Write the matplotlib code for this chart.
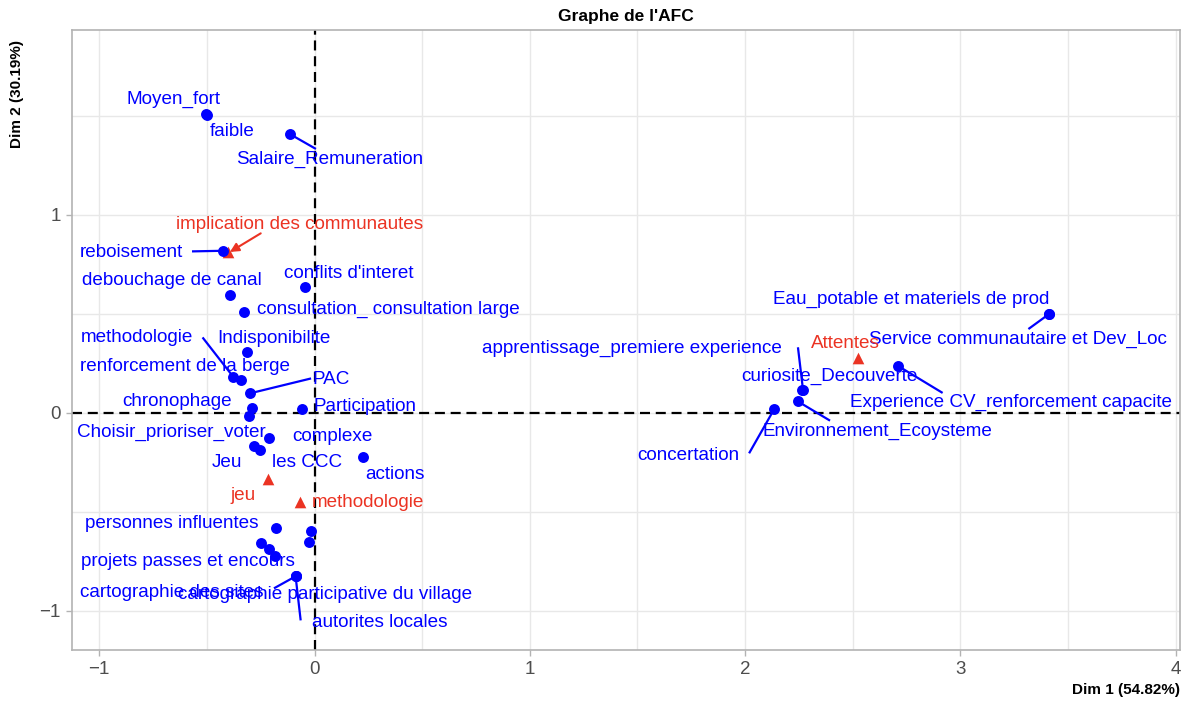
import matplotlib
matplotlib.use('Agg')
import matplotlib.pyplot as plt

plt.rcParams['font.family'] = ['Liberation Sans', 'DejaVu Sans']

# --- data: row categories (blue) ---
row_names = ["Moyen_fort", "faible", "Salaire_Remuneration", "reboisement",
             "conflits d'interet", "debouchage de canal",
             "consultation_ consultation large", "Indisponibilite",
             "methodologie", "renforcement de la berge", "PAC", "chronophage",
             "Choisir_prioriser_voter", "Participation", "complexe", "Jeu",
             "les CCC", "actions", "personnes influentes",
             "projets passes et encours", "cartographie des sites",
             "cartographie participative du village", "autorites locales",
             "Eau_potable et materiels de prod",
             "Service communautaire et Dev_Loc",
             "apprentissage_premiere experience", "curiosite_Decouverte",
             "Environnement_Ecoysteme", "Experience CV_renforcement capacite",
             "concertation"]
row_x = [-0.505, -0.500, -0.114, -0.424, -0.045, -0.393, -0.327, -0.316,
         -0.378, -0.343, -0.300, -0.292, -0.305, -0.060, -0.212, -0.280,
         -0.254, 0.226, -0.179, -0.184, -0.088, -0.086, -0.088,
         3.411, 3.411, 2.269, 2.266, 2.244, 2.711, 2.136]
row_y = [1.507, 1.505, 1.407, 0.818, 0.636, 0.593, 0.507, 0.305,
         0.182, 0.165, 0.098, 0.025, -0.015, 0.017, -0.129, -0.168,
         -0.188, -0.225, -0.581, -0.722, -0.826, -0.824, -0.826,
         0.498, 0.498, 0.115, 0.117, 0.058, 0.236, 0.020]

# row points left without a label (too many overlaps)
extra_x = [-0.018, -0.025, -0.249, -0.212]
extra_y = [-0.596, -0.652, -0.657, -0.690]

# --- data: column categories (red) ---
col_names = ["implication des communautes", "jeu", "methodologie", "Attentes"]
col_x = [-0.400, -0.215, -0.068, 2.526]
col_y = [0.812, -0.336, -0.453, 0.275]

# --- label layout (repelled positions, label centres) ---
row_lab_x = [-0.653, -0.382, 0.072, -0.850, 0.161, -0.664, 0.342, -0.189,
             -0.827, -0.602, 0.079, -0.638, -0.664, 0.234, 0.082, -0.408,
             -0.034, 0.374, -0.664, -0.587, -0.664, 0.048, 0.304,
             2.771, 3.269, 1.476, 2.390, 2.614, 3.236, 1.735]
row_lab_y = [1.583, 1.419, 1.280, 0.810, 0.704, 0.667, 0.524, 0.376,
             0.379, 0.236, 0.170, 0.056, -0.099, 0.030, -0.118, -0.253,
             -0.253, -0.310, -0.559, -0.753, -0.909, -0.917, -1.059,
             0.573, 0.371, 0.327, 0.182, -0.096, 0.051, -0.217]
col_lab_x = [-0.071, -0.334, 0.250, 2.465]
col_lab_y = [0.953, -0.416, -0.455, 0.351]

# connector segments: label name -> end point near the label
row_seg = {
    "Salaire_Remuneration": (0.002, 1.335),
    "reboisement": (-0.564, 0.815),
    "methodologie": (-0.517, 0.376),
    "PAC": (-0.021, 0.172),
    "cartographie des sites": (-0.184, -0.884),
    "autorites locales": (-0.065, -1.043),
    "Service communautaire et Dev_Loc": (3.320, 0.426),
    "apprentissage_premiere experience": (2.246, 0.325),
    "Environnement_Ecoysteme": (2.390, -0.037),
    "Experience CV_renforcement capacite": (2.913, 0.103),
    "concertation": (2.021, -0.200),
}
col_arrow = {"implication des communautes": (-0.250, 0.906)}

BLUE = '#0000FF'
RED = '#EB3323'
LABEL_SIZE = 13.6

fig = plt.figure(figsize=(11.87, 7.02), dpi=100)
ax = fig.add_axes([0.0604, 0.0741, 0.9337, 0.8832])

ax.set_xlim(-1.128, 4.02)
ax.set_ylim(-1.198, 1.933)

# grid
ax.set_xticks([-1, 0, 1, 2, 3, 4])
ax.set_xticks([-0.5, 0.5, 1.5, 2.5, 3.5], minor=True)
ax.set_yticks([-1, 0, 1])
ax.set_yticks([-0.5, 0.5, 1.5], minor=True)
ax.grid(True, which='both', color='#E8E8E8', linewidth=1.0, zorder=0)
ax.set_axisbelow(True)
ax.tick_params(which='minor', length=0)
ax.tick_params(which='major', length=4, width=1, color='#B3B3B3',
               labelcolor='#4D4D4D', labelsize=13.5, pad=4)
for sp in ax.spines.values():
    sp.set_color('#B3B3B3')
    sp.set_linewidth(1.2)

# origin lines
ax.axhline(0, color='black', linestyle=(0, (4.5, 2.6)), linewidth=1.6, zorder=2)
ax.axvline(0, color='black', linestyle=(0, (4.5, 2.6)), linewidth=1.6, zorder=2)

# segments
for name, (ex, ey) in row_seg.items():
    i = row_names.index(name)
    ax.plot([row_x[i], ex], [row_y[i], ey], color=BLUE, linewidth=1.6, zorder=3)
for name, (sx, sy) in col_arrow.items():
    i = col_names.index(name)
    ax.annotate('', xy=(col_x[i] + 0.007, col_y[i]), xytext=(sx, sy),
                arrowprops=dict(arrowstyle='-|>', color=RED, lw=1.5,
                                mutation_scale=13, shrinkA=0, shrinkB=0),
                zorder=3)

# points
ax.scatter(col_x, col_y, marker='^', s=70, color=RED, zorder=4, linewidths=0)
ax.scatter(row_x, row_y, marker='o', s=62, color=BLUE, zorder=5, linewidths=0)
ax.scatter(extra_x, extra_y, marker='o', s=62, color=BLUE, zorder=5, linewidths=0)

# labels
for name, lx, ly in zip(row_names, row_lab_x, row_lab_y):
    ax.text(lx, ly, name, color=BLUE, fontsize=LABEL_SIZE, ha='center',
            va='center', zorder=6)
for name, lx, ly in zip(col_names, col_lab_x, col_lab_y):
    ax.text(lx, ly, name, color=RED, fontsize=LABEL_SIZE, ha='center',
            va='center', zorder=6)

fig.text(0.527, 1 - 17 / 702, "Graphe de l'AFC", ha='center', va='center',
         fontsize=12.5, fontweight='bold')
fig.text(0.994, 1 - 690 / 702, 'Dim 1 (54.82%)', ha='right', va='center',
         fontsize=11, fontweight='bold')
fig.text(17 / 1187, 1 - 40 / 702, 'Dim 2 (30.19%)', ha='center', va='top',
         rotation=90, fontsize=11, fontweight='bold')

fig.savefig('out.png', dpi=100)
